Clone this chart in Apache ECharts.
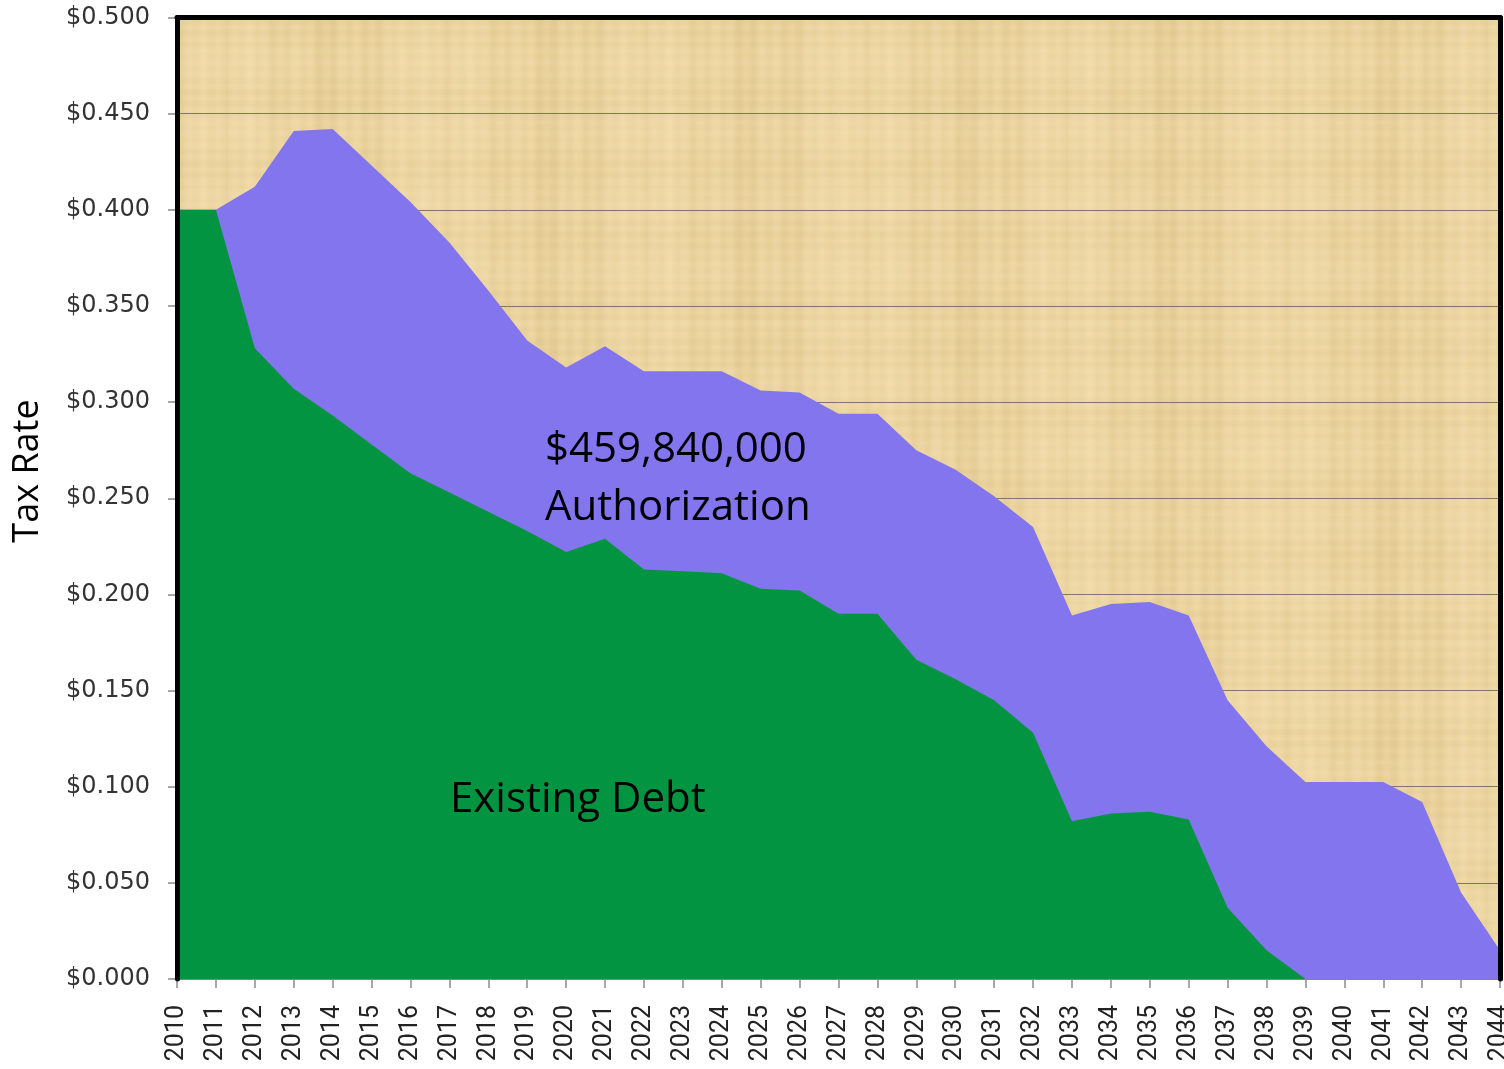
<!DOCTYPE html>
<html><head><meta charset="utf-8">
<script src="https://cdn.jsdelivr.net/npm/echarts@6/dist/echarts.min.js"></script>
<style>html,body{margin:0;padding:0;background:#fff;overflow:hidden}#c{width:1504px;height:1069px}</style>
</head><body><div id="c"></div>
<script>
const years = ['2010','2011','2012','2013','2014','2015','2016','2017','2018','2019',
  '2020','2021','2022','2023','2024','2025','2026','2027','2028','2029',
  '2030','2031','2032','2033','2034','2035','2036','2037','2038','2039',
  '2040','2041','2042','2043','2044'];
const existingDebt = [0.400,0.400,0.328,0.307,0.293,0.278,0.263,0.253,0.243,0.233,
  0.222,0.229,0.213,0.212,0.211,0.203,0.202,0.190,0.190,0.166,
  0.156,0.145,0.128,0.082,0.086,0.087,0.083,0.037,0.015,0.000,
  0.000,0.000,0.000,0.000,0.000];
const totalWithAuthorization = [0.400,0.400,0.412,0.441,0.442,0.423,0.404,0.383,0.358,0.332,
  0.318,0.329,0.316,0.316,0.316,0.306,0.305,0.294,0.294,0.275,
  0.265,0.251,0.235,0.189,0.195,0.196,0.189,0.145,0.121,0.1025,
  0.1025,0.1025,0.092,0.045,0.015];
const yMin = 0, yMax = 0.5, yStep = 0.05;
const axisTitle = 'Tax Rate';
const authLabel = ['$459,840,000', 'Authorization'];
const debtLabel = 'Existing Debt';

function makePapyrus(){
  const w = 420, h = 320;
  const c = document.createElement('canvas'); c.width = w; c.height = h;
  const g = c.getContext('2d');
  g.fillStyle = '#ECD5A1'; g.fillRect(0, 0, w, h);
  for (let x = 0; x < w; x++) {
    const t = Math.sin(x*0.41)*0.45 + Math.sin(x*0.127+1.3)*0.35 + Math.sin(x*0.031+0.7)*0.45;
    g.fillStyle = t > 0 ? 'rgba(250,234,190,' + (0.25*t) + ')' : 'rgba(185,150,85,' + (-0.12*t) + ')';
    g.fillRect(x, 0, 1, h);
  }
  for (let y = 0; y < h; y++) {
    const t = Math.sin(y*0.53)*0.5 + Math.sin(y*0.091+2.1)*0.5;
    g.fillStyle = t > 0 ? 'rgba(252,238,200,' + (0.12*t) + ')' : 'rgba(175,140,75,' + (-0.06*t) + ')';
    g.fillRect(0, y, w, 1);
  }
  return c;
}

const chart = echarts.init(document.getElementById('c'), null, {renderer: 'canvas'});
const font = '"Open Sans", "Noto Sans", sans-serif';
const borderAxis = {axisTick: {show: false}, axisLabel: {show: false}, splitLine: {show: false}, z: 10,
  axisLine: {show: true, onZero: false, lineStyle: {color: '#000', width: 5}}};
chart.setOption({
  backgroundColor: '#ffffff',
  animation: false,
  grid: {left: 177, right: 4, top: 17.5, bottom: 90, show: true, containLabel: false,
    outerBoundsMode: 'none',
    backgroundColor: {image: makePapyrus(), repeat: 'repeat'}, borderWidth: 0},
  xAxis: [{
    type: 'category', data: years, boundaryGap: false, position: 'bottom',
    axisLine: {show: true, lineStyle: {color: '#8a8a8a', width: 1.5}},
    axisTick: {show: true, length: 9, alignWithLabel: true, lineStyle: {color: '#8a8a8a', width: 1.5}},
    axisLabel: {rotate: 90, interval: 0, margin: 26, fontSize: 25, color: '#222', fontFamily: 'Roboto, "Open Sans", sans-serif'},
    splitLine: {show: false}
  }, Object.assign({type: 'category', data: years, boundaryGap: false, position: 'top'}, borderAxis)],
  yAxis: [{
    type: 'value', min: yMin, max: yMax, interval: yStep, position: 'left',
    axisLine: {show: false},
    axisTick: {show: true, length: 9, lineStyle: {color: '#8a8a8a', width: 1.5}},
    axisLabel: {margin: 27, fontSize: 24, color: '#333', fontFamily: '"DejaVu Sans", sans-serif',
      formatter: v => '$' + v.toFixed(3)},
    splitLine: {show: true, lineStyle: {color: '#7d766a', width: 1}}
  },
  Object.assign({type: 'value', min: yMin, max: yMax, interval: yStep, position: 'left'}, borderAxis),
  Object.assign({type: 'value', min: yMin, max: yMax, interval: yStep, position: 'right'}, borderAxis)],
  series: [{
    name: 'Authorization', type: 'line', data: totalWithAuthorization, symbol: 'none',
    lineStyle: {width: 0}, areaStyle: {color: '#8375EE', opacity: 1}, z: 2
  }, {
    name: 'Existing Debt', type: 'line', data: existingDebt, symbol: 'none',
    lineStyle: {width: 0}, areaStyle: {color: '#039441', opacity: 1}, z: 3
  }],
  graphic: [
    {type: 'text', x: 28, y: 471, rotation: Math.PI / 2, z: 100,
      style: {text: axisTitle, font: '36px ' + font, fill: '#000', align: 'center', verticalAlign: 'middle'}},
    {type: 'text', left: 545, top: 421, z: 100, style: {text: authLabel.join('\n'), font: '42px ' + font, fill: '#000', lineHeight: 58}},
    {type: 'text', left: 450, top: 779, z: 100, style: {text: debtLabel, font: '42px ' + font, fill: '#000'}}
  ]
});
</script></body></html>
